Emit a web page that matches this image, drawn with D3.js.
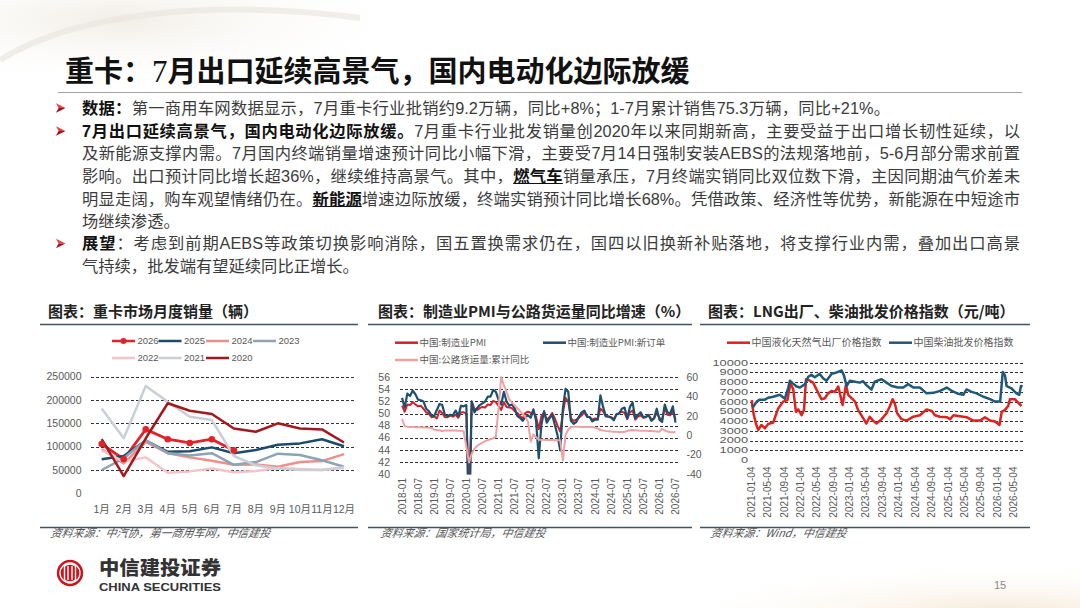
<!DOCTYPE html>
<html><head><meta charset="utf-8">
<script src="https://cdn.jsdelivr.net/npm/d3@7/dist/d3.min.js"></script>
<style>
html,body{margin:0;padding:0;background:#fff;}
#wrap{position:relative;width:1080px;height:608px;overflow:hidden;font-family:"Liberation Sans","Noto Sans CJK SC",sans-serif;background:#fff;}
svg{position:absolute;left:0;top:0;}
.ln{position:absolute;left:82px;font-size:16.3px;line-height:22.6px;height:22.6px;color:#3b3b3b;font-family:"Liberation Sans","Noto Sans CJK SC",sans-serif;}
.j{text-align:justify;text-align-last:justify;}
.ln b{color:#111;font-weight:700;}
.u{text-decoration:underline;}
</style></head>
<body><div id="wrap">
<svg id="bg" width="1080" height="608"></svg>
<div class="ln j" style="top:96.7px;width:808px"><b>数据：</b>第一商用车网数据显示，7月重卡行业批销约9.2万辆，同比+8%；1-7月累计销售75.3万辆，同比+21%。</div>
<div class="ln j" style="top:119.7px;width:938px"><b>7月出口延续高景气，国内电动化边际放缓。</b>7月重卡行业批发销量创2020年以来同期新高，主要受益于出口增长韧性延续，以</div>
<div class="ln j" style="top:142.3px;width:938px">及新能源支撑内需。7月国内终端销量增速预计同比小幅下滑，主要受7月14日强制安装AEBS的法规落地前，5-6月部分需求前置</div>
<div class="ln j" style="top:164.9px;width:938px">影响。出口预计同比增长超36%，继续维持高景气。其中，<b class="u">燃气车</b>销量承压，7月终端实销同比双位数下滑，主因同期油气价差未</div>
<div class="ln j" style="top:187.5px;width:938px">明显走阔，购车观望情绪仍在。<b class="u">新能源</b>增速边际放缓，终端实销预计同比增长68%。凭借政策、经济性等优势，新能源在中短途市</div>
<div class="ln" style="top:210.1px;width:938px">场继续渗透。</div>
<div class="ln j" style="top:232.2px;width:938px"><b>展望</b>：考虑到前期AEBS等政策切换影响消除，国五置换需求仍在，国四以旧换新补贴落地，将支撑行业内需，叠加出口高景</div>
<div class="ln" style="top:254.8px;width:938px">气持续，批发端有望延续同比正增长。</div>
</div>
<script>
// ---------------- DATA ----------------
// Chart 1: heavy truck monthly sales (vehicles)
const months = ["1月","2月","3月","4月","5月","6月","7月","8月","9月","10月","11月","12月"];
const sales2026 = [105700, 73000, 137000, 116000, 108000, 116000, 92000];
const sales2025 = [73000, 80000, 113000, 89000, 90000, 98500, 86000, 93000, 104000, 107000, 116000, 101000];
const sales2024 = [95000, 64000, 110000, 86000, 77000, 70000, 61000, 62000, 57000, 67000, 69000, 84000];
const sales2023 = [50000, 75000, 114000, 86000, 81000, 86000, 61000, 67000, 85000, 82000, 71000, 57000];
const sales2022 = [92000, 68000, 77000, 44000, 47000, 53000, 45000, 48000, 54000, 52000, 50000, 54000];
const sales2021 = [182000, 118000, 230000, 196000, 164000, 157000, 80000, 60000, 53000, 50000, 50000, 56000];
const sales2020 = [116000, 37000, 118000, 193000, 177000, 170000, 139000, 132000, 150000, 139000, 137000, 109000];
const salesYears = ["2026","2025","2024","2023","2022","2021","2020"];
const salesTicks = [0, 50000, 100000, 150000, 200000, 250000];

// Chart 2: PMI (left axis) and highway freight cumulative yoy (right axis), monthly 2018-01 .. 2026-07
const pmi = [
 51.3,50.3,51.5,51.4,51.9,51.5,51.2,51.3,50.8,50.2,50.0,49.4,
 49.5,49.2,50.5,50.1,49.4,49.4,49.7,49.5,49.8,49.3,50.2,50.2,
 50.0,35.7,52.0,50.8,50.6,50.9,51.1,51.0,51.5,51.4,52.1,51.9,
 51.3,50.6,51.9,51.1,51.0,50.9,50.4,50.1,49.6,49.2,50.1,50.3,
 50.1,50.2,49.5,47.4,49.6,50.2,49.0,49.4,50.1,49.2,48.0,47.0,
 50.1,52.6,51.9,49.2,48.8,49.0,49.3,49.7,50.2,49.5,49.4,49.0,
 49.2,49.1,50.8,50.4,49.5,49.5,49.4,49.1,49.8,50.1,50.3,50.1,
 49.1,50.2,50.5,49.0,49.5,49.7,49.3,49.4,49.8,49.0,49.2,50.1,
 49.3,49.0,50.9,49.8,49.7,50.4,49.0];
const newOrders = [
 52.6,51.0,53.3,52.9,53.8,53.2,52.3,52.2,52.0,50.8,50.4,49.7,
 49.6,50.6,51.6,51.4,49.8,49.6,49.8,49.7,50.5,49.6,51.3,51.2,
 51.4,29.3,52.0,50.2,50.9,51.4,51.7,52.0,52.8,52.8,53.9,53.6,
 52.3,51.5,53.6,52.0,51.3,51.5,50.9,49.6,49.3,48.8,49.4,49.7,
 49.3,50.7,48.8,42.6,48.2,50.4,48.5,49.2,49.8,48.1,46.4,43.9,
 50.9,54.1,53.6,48.8,48.3,48.6,49.5,50.2,50.5,49.5,49.4,48.7,
 49.0,49.0,53.0,51.1,49.6,49.5,49.3,48.9,49.9,50.0,50.8,51.0,
 49.2,51.1,51.8,49.2,49.8,50.2,49.4,49.5,49.7,48.8,49.2,50.8,
 49.0,48.6,51.5,50.2,50.0,51.2,48.5];
const freightYoY = [
 16.9,9.5,8.8,8.6,8.5,8.4,8.4,8.3,8.2,8.0,7.9,7.7,
 5.8,5.5,5.3,4.2,5.1,5.0,5.0,4.9,4.9,4.8,4.6,4.2,
 -12.0,-28.0,-19.0,-14.0,-11.0,-9.0,-7.5,-6.0,-5.0,-4.0,-3.0,-1.5,
 28.0,60.0,52.0,45.0,37.0,34.0,31.0,28.0,25.0,22.0,19.0,14.0,
 -6.5,1.0,-2.0,-4.5,-4.6,-4.7,-4.8,-4.8,-4.9,-5.0,-5.0,-5.2,
 -26.0,0.5,6.0,8.5,8.8,8.8,8.8,8.7,8.7,8.6,8.6,8.5,
 8.0,7.0,5.5,5.0,4.6,4.3,4.0,3.8,3.6,3.5,3.5,3.6,
 4.5,5.2,5.4,5.2,5.0,4.8,4.7,4.6,4.5,4.4,4.2,4.0,
 3.8,6.8,5.0,4.0,3.5,3.3,3.4];
const pmiTickLabels = ["2018-01","2018-07","2019-01","2019-07","2020-01","2020-07","2021-01","2021-07","2022-01","2022-07","2023-01","2023-07","2024-01","2024-07","2025-01","2025-07","2026-01","2026-07"];
const pmiLeftTicks = [40,42,44,46,48,50,52,54,56];
const pmiRightTicks = [-40,-20,0,20,40,60];

// Chart 3: LNG ex-factory price index and diesel wholesale price index (yuan/ton)
const lngSeries = [
 ["2021-01-04",6150],["2021-01-17",4800],["2021-02-05",3700],["2021-02-22",3100],["2021-03-17",3600],["2021-04-12",3250],
 ["2021-05-06",3700],["2021-06-13",3850],["2021-07-20",5300],["2021-08-26",6000],["2021-09-26",6150],["2021-10-20",7900],
 ["2021-11-09",7250],["2021-11-29",4950],["2021-12-16",5200],["2022-01-10",4600],["2022-01-28",5150],["2022-02-12",8300],
 ["2022-03-07",8200],["2022-04-06",7950],["2022-05-01",7250],["2022-06-07",6250],["2022-07-02",6350],["2022-07-26",6850],
 ["2022-08-21",7100],["2022-09-15",7000],["2022-10-10",7550],["2022-10-22",6850],["2022-11-11",5650],["2022-12-06",7700],
 ["2022-12-23",6700],["2023-01-17",6350],["2023-02-12",6000],["2023-03-06",5150],["2023-04-13",4300],["2023-05-07",3750],
 ["2023-06-01",4450],["2023-06-26",4050],["2023-07-21",3750],["2023-08-28",4200],["2023-10-04",4800],["2023-10-28",5500],
 ["2023-11-18",6250],["2023-12-05",5800],["2023-12-22",4800],["2024-01-24",4200],["2024-03-01",4050],["2024-04-20",4450],
 ["2024-06-08",4600],["2024-07-28",5200],["2024-09-04",5050],["2024-09-28",4600],["2024-11-05",4450],["2024-12-25",4400],
 ["2025-01-19",4200],["2025-02-13",4600],["2025-04-02",4500],["2025-05-21",4400],["2025-07-10",4050],["2025-08-29",4050],
 ["2025-10-05",4400],["2025-11-12",4050],["2025-12-19",3950],["2026-01-21",3600],["2026-02-07",4950],["2026-03-03",5150],
 ["2026-03-27",5550],["2026-04-09",6250],["2026-05-15",6250],["2026-06-09",5900],["2026-07-04",5550]];
const dieselSeries = [
 ["2021-01-04",5550],["2021-01-17",5500],["2021-02-10",6000],["2021-03-05",6200],["2021-04-12",6200],["2021-05-06",6400],
 ["2021-06-13",6500],["2021-08-01",6700],["2021-09-08",6300],["2021-10-03",7450],["2021-10-15",8150],["2021-11-04",7900],
 ["2021-12-04",7550],["2021-12-29",7450],["2022-02-05",7800],["2022-03-01",8550],["2022-03-24",8750],["2022-04-18",8500],
 ["2022-05-25",8850],["2022-06-19",8400],["2022-07-14",8150],["2022-08-21",8850],["2022-09-28",9000],["2022-11-04",9200],
 ["2022-11-21",8700],["2022-12-11",7600],["2023-01-05",8150],["2023-02-12",8050],["2023-03-19",7950],["2023-04-13",8100],
 ["2023-05-07",7700],["2023-06-14",7250],["2023-07-08",8050],["2023-08-28",8300],["2023-10-04",7950],["2023-11-11",7600],
 ["2023-12-30",7450],["2024-02-06",7450],["2024-03-13",7800],["2024-04-20",7450],["2024-06-08",7450],["2024-07-28",6850],
 ["2024-09-16",6900],["2024-11-05",7100],["2024-12-25",7450],["2025-02-01",7100],["2025-03-20",6800],["2025-04-27",6700],
 ["2025-05-21",7250],["2025-06-28",7000],["2025-08-04",6850],["2025-09-23",6500],["2025-11-12",6250],["2025-12-19",6000],
 ["2026-01-26",6000],["2026-02-15",9050],["2026-03-03",8700],["2026-03-15",7600],["2026-04-21",7350],["2026-05-28",6850],
 ["2026-06-17",6700],["2026-06-30",7600],["2026-07-12",7550]];
const priceTickLabels = ["2021-01-04","2021-05-04","2021-09-04","2022-01-04","2022-05-04","2022-09-04","2023-01-04","2023-05-04","2023-09-04","2024-01-04","2024-05-04","2024-09-04","2025-01-04","2025-05-04","2025-09-04","2026-01-04","2026-05-04"];
const priceTicks = [0,1000,2000,3000,4000,5000,6000,7000,8000,9000,10000];

// ---------------- STYLES ----------------
const yearColor = {"2026":"#E1242A","2025":"#1C4B6C","2024":"#EF8E8A","2023":"#8EA3B3","2022":"#F5C3CA","2021":"#C9CFD4","2020":"#A3181E"};
const salesData = {"2026":sales2026,"2025":sales2025,"2024":sales2024,"2023":sales2023,"2022":sales2022,"2021":sales2021,"2020":sales2020};
const AX = "#595959", GRID = "#333", RULE = "#3E5565";
const FONT = '"Liberation Sans","Noto Sans CJK SC",sans-serif';

const svg = d3.select("#bg").attr("font-family", FONT);

// background decoration
const defs = svg.append("defs");
const rg1 = defs.append("radialGradient").attr("id","rg1");
rg1.append("stop").attr("offset","0%").attr("stop-color","#ece6dc").attr("stop-opacity",0.7);
rg1.append("stop").attr("offset","100%").attr("stop-color","#ffffff").attr("stop-opacity",0);
const rg2 = defs.append("radialGradient").attr("id","rg2");
rg2.append("stop").attr("offset","0%").attr("stop-color","#f3e4cc").attr("stop-opacity",0.8);
rg2.append("stop").attr("offset","100%").attr("stop-color","#ffffff").attr("stop-opacity",0);
svg.append("ellipse").attr("cx",120).attr("cy",20).attr("rx",300).attr("ry",70).attr("fill","url(#rg1)");
svg.append("ellipse").attr("cx",1000).attr("cy",612).attr("rx",340).attr("ry",50).attr("fill","url(#rg2)");
svg.append("path").attr("d","M0,60 C80,10 220,0 360,18").attr("fill","none").attr("stroke","#e8e4de").attr("stroke-width",6).attr("opacity",0.6);

// title
const t = svg.append("text").attr("x",65).attr("y",82).attr("font-size",29).attr("font-weight",700).attr("fill","#111").attr("font-family",'"Noto Sans CJK SC",sans-serif');
t.append("tspan").text("重卡：");
t.append("tspan").attr("font-family","Liberation Serif").attr("font-weight",400).attr("font-size",31).text("7");
t.append("tspan").text("月出口延续高景气，国内电动化边际放缓");
svg.append("line").attr("x1",58).attr("x2",1022).attr("y1",92.5).attr("y2",92.5).attr("stroke","#a0a0a0").attr("stroke-width",1);

// bullet arrowheads (3D style)
[108, 131, 243.5].forEach(cy=>{
  const a = svg.append("g").attr("transform",`translate(56,${cy})`);
  a.append("path").attr("d","M0,-4.8 L9.5,0 L2.6,0 Z").attr("fill","#E8443F");
  a.append("path").attr("d","M0,4.8 L9.5,0 L2.6,0 Z").attr("fill","#9E1016");
});

// panel titles & rules
const panels = [
  {x:48, title:"图表：重卡市场月度销量（辆）", src:"资料来源：中汽协，第一商用车网，中信建投", rx1:40, rx2:358},
  {x:378, title:"图表：制造业PMI与公路货运量同比增速（%）", src:"资料来源：国家统计局，中信建投", rx1:368, rx2:692},
  {x:708, title:"图表：LNG出厂、柴油批发价格指数（元/吨）", src:"资料来源：Wind，中信建投", rx1:700, rx2:1030}
];
panels.forEach(p=>{
  svg.append("text").attr("x",p.x).attr("y",317).attr("font-size",15).attr("font-weight",700).attr("fill","#222")
    .attr("font-family",'"Noto Sans CJK SC",sans-serif').text(p.title);
  svg.append("line").attr("x1",p.rx1).attr("x2",p.rx2).attr("y1",324.5).attr("y2",324.5).attr("stroke",RULE).attr("stroke-width",1.5);
  svg.append("line").attr("x1",p.rx1).attr("x2",p.rx2).attr("y1",527.5).attr("y2",527.5).attr("stroke",RULE).attr("stroke-width",1.5);
  svg.append("text").attr("x",p.x+2).attr("y",537.5).attr("font-size",11).attr("font-style","italic").attr("fill","#555")
    .attr("font-family",'"Noto Sans CJK SC",sans-serif').attr("transform",`skewX(-10) translate(${537.5*Math.tan(10*Math.PI/180)},0)`).text(p.src);
});

function dashedGrid(g, vals, y, x1, x2){
  g.selectAll(null).data(vals).enter().append("line")
    .attr("x1",x1).attr("x2",x2).attr("y1",d=>Math.round(y(d))+0.5).attr("y2",d=>Math.round(y(d))+0.5)
    .attr("stroke",GRID).attr("stroke-width",1).attr("stroke-dasharray","3,2");
}

// ---------------- CHART 1 ----------------
{
  const g = svg.append("g");
  const x = d3.scalePoint().domain(months).range([101.7, 344]);
  const y = d3.scaleLinear().domain([0,250000]).range([493.3,376.7]);
  dashedGrid(g, salesTicks.filter(v=>v>0), y, 91, 355);
  g.selectAll(null).data(salesTicks).enter().append("text")
    .attr("x",81.5).attr("y",d=>y(d)).attr("dy","0.35em").attr("text-anchor","end")
    .attr("font-size",10.5).attr("fill",AX).text(d=>d);
  g.selectAll(null).data(months).enter().append("text")
    .attr("x",d=>x(d)).attr("y",509).attr("dy","0.35em").attr("text-anchor","middle")
    .attr("font-size",10.5).attr("fill",AX).text(d=>d);
  const line = d3.line().x((d,i)=>x(months[i])).y(d=>y(d));
  salesYears.forEach(yr=>{
    g.append("path").attr("d",line(salesData[yr])).attr("fill","none")
      .attr("stroke",yearColor[yr]).attr("stroke-width",yr==="2026"?2.8:2.5).attr("stroke-linejoin","round");
  });
  g.selectAll(null).data(sales2026).enter().append("circle")
    .attr("cx",(d,i)=>x(months[i])).attr("cy",d=>y(d)).attr("r",3.3).attr("fill",yearColor["2026"]);
  // legend
  const lg = [
    {yr:"2026",x:112,y:341},{yr:"2025",x:158.5,y:341},{yr:"2024",x:206,y:341},{yr:"2023",x:253,y:341},
    {yr:"2022",x:112,y:358},{yr:"2021",x:158.5,y:358},{yr:"2020",x:206,y:358}];
  lg.forEach(l=>{
    g.append("line").attr("x1",l.x).attr("x2",l.x+23).attr("y1",l.y).attr("y2",l.y).attr("stroke",yearColor[l.yr]).attr("stroke-width",2.5);
    if(l.yr==="2026") g.append("circle").attr("cx",l.x+11.5).attr("cy",l.y).attr("r",3).attr("fill",yearColor[l.yr]);
    g.append("text").attr("x",l.x+25.5).attr("y",l.y).attr("dy","0.35em").attr("font-size",9.5).attr("fill",AX).text(l.yr);
  });
}

// ---------------- CHART 2 ----------------
{
  const g = svg.append("g");
  const x = d3.scaleLinear().domain([0, pmi.length-1]).range([402, 675.5]);
  const yL = d3.scaleLinear().domain([40,56]).range([474,377.3]);
  const yR = d3.scaleLinear().domain([-40,60]).range([474,377.3]);
  dashedGrid(g, pmiLeftTicks.filter(v=>v>40), yL, 400, 678);
  g.selectAll(null).data(pmiLeftTicks).enter().append("text")
    .attr("x",390).attr("y",d=>yL(d)).attr("dy","0.35em").attr("text-anchor","end")
    .attr("font-size",10.5).attr("fill",AX).text(d=>d);
  g.selectAll(null).data(pmiRightTicks).enter().append("text")
    .attr("x",686.5).attr("y",d=>yR(d)).attr("dy","0.35em").attr("text-anchor","start")
    .attr("font-size",10.5).attr("fill",AX).text(d=>d);
  g.selectAll(null).data(pmiTickLabels).enter().append("text")
    .attr("transform",(d,i)=>`translate(${x(i*6)},478) rotate(-90)`)
    .attr("dy","0.35em").attr("text-anchor","end").attr("font-size",10).attr("fill",AX).text(d=>d);
  defs.append("clipPath").attr("id","clip2").append("rect").attr("x",398).attr("y",370).attr("width",284).attr("height",104.5);
  const pg = g.append("g").attr("clip-path","url(#clip2)");
  const lineL = d3.line().x((d,i)=>x(i)).y(d=>yL(d));
  const lineR = d3.line().x((d,i)=>x(i)).y(d=>yR(d));
  pg.append("path").attr("d",lineL(pmi)).attr("fill","none").attr("stroke","#D3202A").attr("stroke-width",2).attr("stroke-linejoin","round");
  pg.append("path").attr("d",lineL(newOrders)).attr("fill","none").attr("stroke","#1D4F6E").attr("stroke-width",2.2).attr("stroke-linejoin","round");
  pg.append("path").attr("d",lineR(freightYoY)).attr("fill","none").attr("stroke","#F0A2A2").attr("stroke-width",2).attr("stroke-linejoin","round");
  const lg = [
    {t:"中国:制造业PMI",c:"#D3202A",x:395,y:342.7},
    {t:"中国:制造业PMI:新订单",c:"#1D4F6E",x:543,y:342.7},
    {t:"中国:公路货运量:累计同比",c:"#F0A2A2",x:395,y:360}];
  lg.forEach(l=>{
    g.append("line").attr("x1",l.x).attr("x2",l.x+23).attr("y1",l.y).attr("y2",l.y).attr("stroke",l.c).attr("stroke-width",2.5);
    g.append("text").attr("x",l.x+24.5).attr("y",l.y).attr("dy","0.35em").attr("font-size",9.5).attr("fill",AX)
      .attr("font-family",'"Noto Sans CJK SC",sans-serif').text(l.t);
  });
}

// ---------------- CHART 3 ----------------
{
  const g = svg.append("g");
  const parse = d3.timeParse("%Y-%m-%d");
  const x = d3.scaleTime().domain([parse("2021-01-04"), parse("2026-05-04")]).range([751.7, 1013.3]);
  const y = d3.scaleLinear().domain([0,10000]).range([460,362.7]);
  dashedGrid(g, priceTicks.filter(v=>v>0), y, 750, 1023.5);
  g.selectAll(null).data(priceTicks).enter().append("text")
    .attr("x",748).attr("y",d=>y(d)).attr("dy","0.35em").attr("text-anchor","end")
    .attr("font-size",8.3).attr("textLength",d=>String(d).length*7.1).attr("lengthAdjust","spacingAndGlyphs")
    .attr("fill",AX).text(d=>d);
  g.selectAll(null).data(priceTickLabels).enter().append("text")
    .attr("transform",d=>`translate(${x(parse(d))},466.5) rotate(-90)`)
    .attr("dy","0.35em").attr("text-anchor","end").attr("font-size",10).attr("fill",AX).text(d=>d);
  const line = d3.line().x(d=>x(parse(d[0]))).y(d=>y(d[1]));
  g.append("path").attr("d",line(lngSeries)).attr("fill","none").attr("stroke","#E0211E").attr("stroke-width",2.5).attr("stroke-linejoin","round");
  g.append("path").attr("d",line(dieselSeries)).attr("fill","none").attr("stroke","#1F5878").attr("stroke-width",2.5).attr("stroke-linejoin","round");
  const lg = [
    {t:"中国液化天然气出厂价格指数",c:"#E0211E",x:727,y:342.7},
    {t:"中国柴油批发价格指数",c:"#1F5878",x:889,y:342.7}];
  lg.forEach(l=>{
    g.append("line").attr("x1",l.x).attr("x2",l.x+23).attr("y1",l.y).attr("y2",l.y).attr("stroke",l.c).attr("stroke-width",2.5);
    g.append("text").attr("x",l.x+24.5).attr("y",l.y).attr("dy","0.35em").attr("font-size",10).attr("fill",AX)
      .attr("font-family",'"Noto Sans CJK SC",sans-serif').text(l.t);
  });
}

// ---------------- FOOTER / LOGO ----------------
{
  const g = svg.append("g");
  g.append("circle").attr("cx",70).attr("cy",573).attr("r",13.2).attr("fill","#C8161E");
  g.append("circle").attr("cx",70).attr("cy",573).attr("r",10).attr("fill","none").attr("stroke","#fff").attr("stroke-width",1.3);
  [-5.5,-2,2,5.5].forEach(dx=>{
    g.append("line").attr("x1",70+dx).attr("x2",70+dx).attr("y1",566).attr("y2",580).attr("stroke","#fff").attr("stroke-width",1.4);
  });
  g.append("path").attr("d","M64.5,566 Q70,562 75.5,566 M64.5,580 Q70,584 75.5,580").attr("fill","none").attr("stroke","#fff").attr("stroke-width",1.3);
  g.append("text").attr("x",99).attr("y",575).attr("font-size",19).attr("font-weight",900).attr("fill","#333")
    .attr("font-family",'"Noto Sans CJK SC",sans-serif').attr("textLength",122).attr("lengthAdjust","spacingAndGlyphs").text("中信建投证券");
  g.append("text").attr("x",99).attr("y",591).attr("font-size",11).attr("font-weight",700).attr("fill","#333")
    .attr("textLength",122).attr("lengthAdjust","spacingAndGlyphs").text("CHINA SECURITIES");
  g.append("text").attr("x",1000).attr("y",589).attr("font-size",11).attr("fill","#888").attr("text-anchor","middle").text("15");
}
</script>
</body></html>
